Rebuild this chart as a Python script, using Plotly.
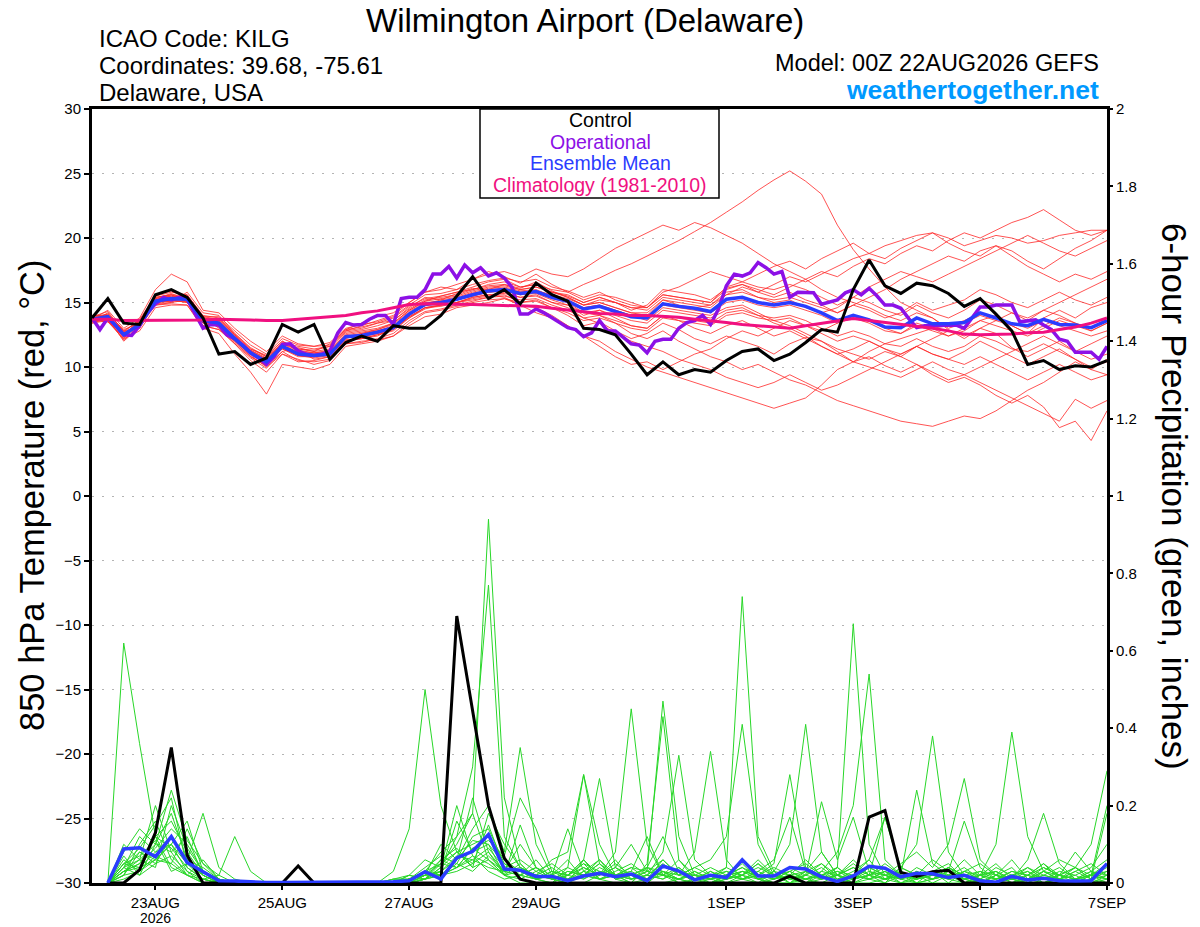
import plotly.graph_objects as go
import pandas as pd

# --- time axes (GEFS 6-hourly, operational 3-hourly) ---
start = pd.Timestamp("2026-08-22 00:00")
hours_6h = list(range(0, 385, 6))
hours_3h = list(range(0, 385, 3))
hours_precip = list(range(6, 385, 6))

tick_days = [1, 3, 5, 7, 10, 12, 14, 16]
tick_labels = ["23AUG", "25AUG", "27AUG", "29AUG", "1SEP", "3SEP", "5SEP", "7SEP"]
year_label = "2026"

# --- 850 hPa temperature (C) ---
control_temp = [
    13.8, 15.3, 13.4, 13.3, 15.6, 16.0, 15.4, 13.8, 11.0, 11.2, 10.2, 10.7, 13.3,
    12.7, 13.3, 10.6, 11.9, 12.4, 12.0, 13.2, 13.0, 13.0, 14.0, 15.5, 17.0, 15.3,
    16.0, 14.9, 16.5, 15.6, 15.1, 13.0, 12.9, 12.5, 11.0, 9.4, 10.4, 9.4, 9.8,
    9.6, 10.5, 11.2, 11.4, 10.5, 11.0, 11.9, 12.9, 12.7, 16.0, 18.3, 16.3, 15.7,
    16.5, 16.3, 15.7, 14.7, 15.3, 14.1, 12.8, 10.2, 10.5, 9.8, 10.1, 10.0, 10.5,
]

mean_temp = [
    13.7, 13.9, 12.5, 13.3, 15.1, 15.3, 15.25, 13.6, 13.4, 12.2, 11.1, 10.4, 11.6,
    11.0, 10.9, 11.0, 12.35, 12.45, 12.7, 13.05, 14.1, 14.85, 15.0, 15.25, 15.6, 15.9,
    16.0, 15.7, 15.85, 15.4, 15.1, 14.5, 14.7, 14.3, 13.9, 13.8, 14.9, 14.7, 14.55,
    14.3, 15.25, 15.4, 15.0, 14.8, 15.0, 14.7, 14.2, 13.6, 14.0, 13.65, 13.1, 13.05,
    13.8, 13.35, 13.35, 13.45, 14.2, 13.8, 13.35, 13.2, 13.7, 13.3, 13.25, 13.05, 13.6,
]

clim_temp = [
    13.7, 13.7, 13.6, 13.6, 13.6, 13.6, 13.6, 13.65, 13.7, 13.7, 13.65, 13.6, 13.6,
    13.7, 13.8, 13.9, 14.0, 14.2, 14.35, 14.6, 14.85, 14.9, 14.9, 14.9, 14.85, 14.8,
    14.75, 14.7, 14.7, 14.55, 14.4, 14.3, 14.15, 14.1, 14.0, 14.0, 13.95, 13.85, 13.7,
    13.6, 13.45, 13.3, 13.2, 13.1, 13.0, 13.2, 13.4, 13.6, 13.75, 13.6, 13.45, 13.35,
    13.2, 13.0, 12.8, 12.55, 12.5, 12.5, 12.55, 12.65, 12.7, 12.9, 13.1, 13.4, 13.8,
]

oper_temp = [
    13.8, 12.9, 13.8, 13.2, 12.5, 12.45, 13.2, 14.2, 14.9, 15.4, 15.2, 15.4, 15.25, 14.1, 13.0, 13.3,
    13.25, 12.5, 12.2, 11.7, 11.1, 10.7, 10.2, 10.85, 11.75, 11.8, 11.25, 11.0, 10.9, 11.0, 11.25, 12.65,
    13.45, 13.25, 13.3, 13.7, 14.0, 14.0, 13.3, 15.3, 15.4, 15.4, 16.0, 17.2, 17.2, 17.8, 16.9, 17.9,
    17.3, 17.7, 17.05, 17.3, 16.9, 16.15, 14.1, 14.1, 14.5, 14.2, 13.8, 13.45, 13.05, 12.9, 12.35, 12.65,
    13.6, 12.8, 12.8, 12.3, 11.8, 11.7, 11.1, 12.0, 12.15, 12.15, 13.0, 13.45, 13.6, 14.0, 13.3, 14.5,
    16.3, 17.2, 17.05, 17.3, 18.1, 17.7, 17.2, 17.4, 15.4, 15.8, 15.8, 15.75, 14.86, 15.0, 15.2, 15.75,
    16.0, 15.6, 16.1, 15.5, 14.8, 14.8, 14.55, 13.75, 13.05, 13.2, 13.2, 13.2, 13.2, 13.25, 13.0, 13.8,
    14.65, 14.65, 14.8, 14.8, 14.8, 13.5, 13.6, 13.65, 13.25, 12.9, 12.15, 12.0, 11.15, 11.15, 11.15, 10.6,
    11.6,
]

member_temps = [
    [13.5, 14.2, 12.8, 13.0, 15.4, 15.6, 15.0, 13.2, 12.9, 12.0, 10.8, 10.1, 11.2,
     11.5, 11.2, 11.8, 12.9, 13.4, 13.9, 14.2, 15.0, 15.8, 16.2, 16.0, 16.8, 17.4,
     17.0, 16.5, 17.2, 16.4, 15.8, 16.4, 16.9, 17.5, 18.0, 18.6, 19.2, 19.8, 20.5,
     21.2, 22.0, 22.8, 23.7, 24.5, 25.2, 24.4, 23.4, 21.0, 19.1, 17.6, 16.2, 15.0,
     14.4, 13.8, 12.9, 12.2, 13.0, 12.6, 11.5, 10.8, 11.4, 12.0, 11.2, 10.6, 11.0],
    [13.9, 13.6, 12.2, 13.6, 15.0, 15.1, 15.6, 14.0, 13.8, 12.6, 11.4, 10.9, 12.0,
     11.3, 10.6, 10.8, 12.0, 12.2, 12.4, 13.0, 13.8, 14.5, 14.8, 15.0, 15.3, 15.5,
     15.6, 15.0, 15.2, 14.6, 14.0, 13.2, 13.5, 12.8, 12.2, 12.6, 13.4, 12.9, 12.2,
     11.8, 12.4, 12.0, 11.6, 11.0, 11.8, 12.3, 12.0, 11.2, 10.4, 10.8, 10.1, 9.6,
     10.2, 9.4, 8.8, 9.2, 8.6, 7.8, 7.2, 7.8, 6.9, 5.3, 5.8, 4.3, 6.6],
    [13.4, 13.8, 12.0, 13.1, 15.6, 15.9, 15.4, 13.9, 13.0, 11.8, 10.5, 9.6, 11.0,
     10.6, 10.2, 10.5, 11.8, 12.0, 12.1, 12.4, 13.2, 13.9, 14.1, 14.6, 14.8, 15.0,
     15.3, 14.8, 14.2, 13.8, 13.2, 12.4, 12.0, 11.2, 10.6, 10.0, 9.6, 9.2, 8.8,
     8.4, 8.0, 7.6, 7.2, 6.8, 7.2, 7.6, 8.6, 9.8, 10.4, 11.2, 11.8, 12.2,
     12.6, 13.0, 12.4, 12.8, 13.6, 14.0, 13.2, 12.6, 13.8, 14.4, 13.8, 14.6, 15.0],
    [13.8, 13.5, 12.6, 13.5, 14.8, 15.0, 15.8, 14.2, 14.0, 12.6, 11.5, 10.8, 11.8,
     11.4, 11.3, 11.6, 12.8, 13.0, 13.4, 13.6, 14.6, 15.4, 15.2, 15.7, 16.1, 16.0,
     16.4, 16.1, 16.6, 15.9, 15.4, 14.8, 15.2, 15.0, 14.4, 14.8, 16.0, 15.8, 15.6,
     15.2, 16.1, 16.4, 16.0, 15.6, 16.2, 16.8, 17.4, 17.0, 17.8, 18.4, 18.0, 18.8,
     19.4, 19.0, 19.8, 20.4, 20.0, 20.6, 21.2, 21.6, 22.2, 21.4, 20.6, 20.2, 20.6],
    [13.6, 14.0, 12.4, 13.2, 15.2, 15.5, 15.1, 13.5, 13.2, 12.0, 11.0, 10.2, 11.4,
     10.8, 10.8, 11.2, 12.4, 12.6, 12.8, 13.2, 14.2, 14.9, 15.2, 15.4, 15.8, 16.1,
     16.2, 15.9, 16.0, 15.5, 15.0, 14.2, 14.0, 13.4, 12.6, 12.2, 12.8, 12.0, 11.4,
     10.8, 10.4, 9.8, 10.2, 9.6, 9.0, 8.6, 8.0, 7.4, 7.0, 6.6, 6.2, 5.8,
     5.6, 5.4, 5.8, 6.2, 6.0, 6.6, 7.4, 8.2, 8.8, 9.6, 10.4, 9.8, 10.6],
    [13.7, 14.1, 12.9, 13.4, 15.0, 15.2, 15.0, 13.4, 13.6, 12.4, 11.2, 10.6, 11.8,
     11.1, 11.0, 11.1, 12.2, 12.6, 12.9, 13.4, 14.4, 15.1, 15.5, 15.8, 16.2, 16.6,
     16.8, 16.2, 16.4, 16.0, 15.8, 15.2, 15.6, 15.4, 15.0, 14.6, 15.8, 16.2, 16.8,
     17.4, 17.0, 16.6, 17.2, 17.8, 18.2, 17.6, 18.4, 19.0, 19.6, 18.8, 18.4, 19.2,
     19.8, 20.4, 19.6, 19.0, 18.6, 19.4, 19.0, 18.2, 17.6, 18.4, 19.2, 19.8, 20.6],
    [13.5, 13.7, 12.3, 13.4, 14.9, 15.0, 15.2, 13.7, 13.5, 12.3, 11.3, 10.6, 11.4,
     10.9, 10.8, 10.9, 12.1, 12.2, 12.5, 12.8, 13.8, 14.6, 14.7, 15.0, 15.2, 15.4,
     15.8, 15.4, 15.6, 15.0, 14.8, 14.0, 14.4, 13.8, 13.2, 13.0, 14.0, 13.6, 13.0,
     12.6, 13.2, 13.6, 13.0, 12.4, 12.8, 12.2, 11.6, 11.0, 11.4, 12.0, 11.4, 10.8,
     11.6, 11.0, 10.6, 11.2, 12.0, 11.4, 10.8, 10.2, 10.8, 11.4, 10.6, 9.8, 9.4],
    [14.0, 13.8, 12.6, 13.2, 15.3, 15.7, 15.2, 13.6, 13.1, 12.2, 11.0, 10.5, 11.9,
     11.6, 11.4, 11.6, 12.8, 13.2, 13.6, 14.0, 15.0, 15.8, 16.0, 16.4, 16.8, 17.2,
     17.4, 17.0, 17.6, 17.2, 17.0, 17.6, 18.4, 19.2, 19.8, 20.4, 21.0, 20.6, 21.2,
     20.8, 20.2, 19.6, 18.8, 18.0, 17.4, 16.8, 16.0, 15.4, 15.0, 14.6, 14.0, 13.6,
     14.2, 13.8, 13.0, 13.4, 14.0, 13.6, 13.2, 12.6, 13.2, 13.8, 13.4, 13.0, 13.6],
    [13.6, 14.0, 12.7, 13.0, 15.0, 15.4, 15.4, 13.8, 13.3, 12.1, 10.9, 10.0, 11.0,
     10.4, 10.5, 10.8, 12.0, 12.3, 12.6, 12.9, 13.9, 14.6, 14.8, 15.0, 15.4, 15.6,
     15.4, 14.8, 14.6, 14.0, 13.2, 12.4, 11.6, 10.8, 10.2, 10.4, 9.8, 10.4, 11.0,
     11.4, 12.2, 12.8, 12.4, 13.0, 13.6, 13.2, 12.8, 13.4, 14.0, 13.6, 13.0, 12.6,
     13.2, 12.8, 12.4, 13.0, 13.6, 13.2, 12.8, 12.4, 13.0, 13.6, 13.2, 12.8, 13.4],
    [13.8, 13.9, 12.5, 13.5, 15.2, 15.3, 15.5, 13.9, 13.7, 12.5, 11.2, 10.5, 11.6,
     11.2, 11.1, 11.3, 12.5, 12.7, 12.9, 13.3, 14.3, 15.0, 15.1, 15.3, 15.7, 15.9,
     16.1, 15.8, 15.9, 15.6, 15.3, 14.8, 15.0, 14.6, 14.2, 14.2, 15.2, 14.8, 14.6,
     14.8, 15.6, 16.2, 15.8, 16.4, 17.0, 16.6, 17.2, 17.8, 18.4, 18.8, 19.4, 19.8,
     20.2, 20.4, 20.0, 19.4, 19.8, 20.2, 20.0, 19.6, 19.8, 20.2, 20.4, 20.6, 20.6],
    [13.6, 13.7, 12.4, 13.3, 15.1, 15.2, 15.0, 13.4, 13.3, 12.2, 11.1, 10.4, 11.7,
     11.0, 10.9, 11.0, 12.3, 12.4, 12.7, 13.1, 14.0, 14.8, 15.0, 15.2, 15.5, 15.8,
     15.9, 15.6, 15.8, 15.3, 15.0, 14.6, 14.8, 14.4, 14.0, 13.6, 14.6, 14.4, 14.2,
     14.0, 14.6, 14.8, 14.2, 13.6, 13.2, 12.6, 12.0, 11.4, 11.0, 10.6, 11.2, 10.8,
     10.2, 9.6, 9.0, 9.4, 8.8, 8.2, 7.6, 7.0, 6.4, 5.8, 7.5, 6.8, 7.4],
    [13.9, 14.3, 12.7, 13.7, 15.5, 15.8, 15.6, 13.9, 13.9, 12.8, 11.7, 11.0, 12.2,
     11.7, 11.6, 11.9, 13.0, 13.3, 13.5, 13.9, 14.8, 15.6, 15.7, 16.0, 16.4, 16.7,
     16.9, 16.6, 16.8, 16.2, 15.9, 15.4, 15.8, 15.2, 14.8, 14.6, 15.6, 15.4, 15.2,
     15.0, 16.0, 16.4, 15.8, 15.4, 15.8, 15.2, 14.8, 14.2, 14.8, 14.4, 13.8, 14.2,
     15.0, 14.4, 14.8, 15.2, 16.0, 15.6, 15.0, 14.6, 15.2, 15.8, 15.2, 14.8, 15.4],
    [13.4, 13.6, 12.1, 13.1, 14.8, 14.9, 14.8, 13.2, 12.9, 11.8, 10.7, 9.9, 11.2,
     10.5, 10.4, 10.6, 11.8, 11.9, 12.2, 12.6, 13.6, 14.3, 14.5, 14.8, 15.1, 15.4,
     15.5, 15.2, 15.3, 14.8, 14.4, 13.8, 14.0, 13.6, 13.2, 13.0, 14.0, 13.8, 13.6,
     13.4, 14.2, 14.4, 14.0, 13.8, 14.0, 13.6, 13.0, 12.4, 12.8, 12.4, 11.8, 11.6,
     12.2, 11.6, 11.2, 11.6, 12.4, 12.0, 11.4, 11.2, 11.8, 11.2, 10.6, 10.0, 10.4],
    [14.0, 14.0, 12.6, 13.4, 15.3, 15.5, 15.4, 13.8, 13.6, 12.4, 11.3, 10.7, 11.8,
     11.3, 11.1, 11.2, 12.6, 12.8, 13.0, 13.4, 14.4, 15.1, 15.3, 15.5, 15.9, 16.2,
     16.3, 16.0, 16.2, 15.8, 15.4, 14.8, 15.0, 14.6, 14.2, 14.0, 15.2, 15.0, 14.8,
     14.6, 15.6, 15.8, 15.4, 15.2, 15.4, 15.0, 14.6, 14.2, 14.8, 15.4, 16.0, 16.8,
     17.4, 18.0, 18.6, 18.2, 19.0, 19.4, 18.6, 17.8, 17.2, 16.6, 17.2, 16.8, 17.4],
    [13.5, 13.8, 12.3, 13.1, 15.0, 15.1, 15.1, 13.5, 13.2, 11.9, 10.8, 10.1, 11.5,
     10.9, 10.7, 10.9, 12.1, 12.2, 12.5, 12.9, 13.9, 14.6, 14.8, 15.0, 15.4, 15.6,
     15.7, 15.4, 15.5, 15.0, 14.6, 13.8, 13.4, 12.6, 12.0, 11.6, 11.2, 10.6, 10.2,
     9.8, 9.2, 8.8, 8.4, 8.8, 9.4, 8.8, 8.2, 8.6, 9.2, 9.8, 10.4, 11.0,
     11.6, 12.2, 12.8, 12.4, 13.0, 13.6, 14.2, 13.8, 14.4, 15.0, 15.6, 16.2, 16.8],
    [13.8, 13.8, 12.5, 13.6, 15.2, 15.6, 15.2, 13.7, 13.5, 12.3, 11.2, 10.3, 11.6,
     11.0, 11.0, 11.1, 12.4, 12.5, 12.8, 13.1, 14.2, 14.9, 15.1, 15.3, 15.7, 16.0,
     16.1, 15.8, 15.9, 15.4, 15.2, 14.6, 14.8, 14.4, 14.0, 13.8, 14.8, 14.6, 14.4,
     14.2, 15.0, 15.2, 14.8, 14.6, 14.8, 14.4, 14.0, 13.4, 13.8, 13.4, 12.8, 12.6,
     13.4, 13.0, 13.2, 13.6, 14.2, 13.8, 13.4, 13.0, 13.6, 13.2, 12.8, 12.4, 12.8],
    [13.7, 14.4, 13.0, 13.8, 16.0, 17.2, 16.6, 14.4, 14.2, 13.0, 12.0, 11.2, 12.4,
     11.8, 11.6, 11.7, 12.9, 13.1, 13.4, 13.8, 14.7, 15.3, 15.5, 15.8, 16.0, 16.4,
     16.6, 16.2, 16.4, 15.8, 15.6, 15.0, 15.4, 15.0, 14.6, 14.4, 15.4, 15.2, 15.0,
     14.8, 15.8, 16.0, 15.4, 15.0, 15.2, 14.6, 14.2, 14.6, 15.4, 16.2, 16.8, 17.4,
     17.0, 16.6, 17.2, 17.8, 18.4, 19.0, 19.6, 20.2, 19.6, 19.0, 18.6, 19.2, 19.8],
    [13.6, 13.5, 12.2, 12.8, 14.6, 14.8, 14.8, 13.0, 12.6, 11.0, 9.6, 7.9, 10.2,
     10.0, 9.8, 10.2, 11.6, 11.8, 12.0, 12.4, 13.4, 14.2, 14.4, 14.7, 15.0, 15.2,
     15.3, 15.0, 15.1, 14.6, 14.2, 13.6, 13.8, 13.4, 13.0, 12.8, 13.8, 13.6, 13.4,
     13.2, 14.0, 14.2, 13.8, 13.6, 13.8, 13.2, 12.6, 12.0, 12.4, 12.0, 11.4, 11.0,
     11.6, 11.0, 10.6, 10.2, 10.8, 10.2, 9.6, 9.0, 9.6, 10.2, 9.6, 9.0, 9.4],
    [13.9, 14.1, 12.8, 13.6, 15.4, 15.6, 15.5, 13.8, 13.7, 12.5, 11.4, 10.8, 12.0,
     11.4, 11.2, 11.4, 12.7, 12.9, 13.2, 13.6, 14.5, 15.2, 15.4, 15.6, 16.0, 16.3,
     16.4, 16.0, 16.2, 15.8, 15.5, 15.0, 15.4, 15.0, 14.6, 14.6, 15.6, 15.4, 15.2,
     15.0, 16.2, 16.6, 16.2, 16.0, 16.4, 16.0, 15.4, 14.8, 15.4, 15.0, 14.4, 14.0,
     14.8, 14.2, 13.8, 14.4, 15.2, 14.8, 14.2, 13.6, 14.4, 14.0, 13.4, 12.8, 13.4],
    [13.6, 13.9, 12.5, 13.2, 15.0, 15.2, 15.2, 13.6, 13.4, 12.2, 11.0, 10.3, 11.5,
     10.9, 10.8, 11.0, 12.3, 12.4, 12.6, 13.0, 14.0, 14.8, 15.0, 15.2, 15.5, 15.8,
     15.9, 15.6, 15.7, 15.2, 14.8, 14.2, 14.4, 14.0, 13.6, 13.4, 14.4, 14.2, 14.0,
     13.8, 14.4, 14.6, 14.0, 13.4, 13.0, 12.4, 11.6, 11.0, 10.4, 10.0, 9.6, 9.2,
     9.8, 10.4, 9.8, 9.4, 10.0, 10.6, 11.2, 11.8, 12.4, 11.8, 11.2, 11.8, 12.4],
]

# --- 6-hour precipitation (inches), valid 06Z 22AUG onward ---
control_precip = [
    0, 0, 0.034, 0.13, 0.35, 0.072, 0, 0, 0, 0, 0, 0,
    0.044, 0, 0, 0, 0, 0, 0, 0, 0, 0, 0.69, 0.44, 0.2,
    0.064, 0.01, 0, 0, 0, 0, 0, 0, 0, 0, 0, 0, 0,
    0, 0, 0, 0, 0, 0.018, 0, 0, 0, 0, 0.17, 0.187, 0.027,
    0.017, 0.029, 0.033, 0, 0, 0, 0, 0, 0, 0, 0, 0, 0,
]

mean_precip = [
    0, 0.088, 0.091, 0.068, 0.12, 0.053, 0.029, 0.006, 0.005, 0.002, 0.001, 0.001,
    0.001, 0.001, 0.001, 0.001, 0.001, 0.002, 0.003, 0.006, 0.029, 0.01, 0.065, 0.082, 0.125,
    0.036, 0.033, 0.017, 0.017, 0.006, 0.018, 0.025, 0.016, 0.023, 0.006, 0.044, 0.031, 0.008,
    0.02, 0.014, 0.06, 0.018, 0.018, 0.04, 0.036, 0.016, 0.004, 0.018, 0.043, 0.038, 0.016,
    0.025, 0.024, 0.014, 0.02, 0.006, 0.002, 0.017, 0.008, 0.012, 0.006, 0.005, 0.006, 0.05,
]

member_precip = [
    [0, 0.62, 0.36, 0.12, 0.04, 0.02, 0, 0, 0, 0, 0, 0,
     0, 0, 0, 0, 0, 0, 0, 0.01, 0.03, 0.08, 0.12, 0.18, 0.06,
     0.02, 0, 0, 0, 0.02, 0.05, 0.01, 0, 0, 0.04, 0.12, 0.03, 0,
     0, 0.02, 0.06, 0.01, 0, 0, 0.03, 0.08, 0.02, 0, 0, 0.01, 0.04,
     0.02, 0, 0, 0.03, 0.01, 0, 0, 0.02, 0.05, 0.01, 0, 0, 0.02],
    [0, 0.08, 0.14, 0.1, 0.18, 0.06, 0.02, 0, 0, 0, 0, 0,
     0, 0, 0, 0, 0, 0, 0, 0, 0.02, 0.05, 0.1, 0.18, 0.94,
     0.22, 0.05, 0.01, 0, 0, 0.02, 0.06, 0.01, 0, 0, 0.03, 0.01, 0,
     0.01, 0.04, 0.74, 0.12, 0.03, 0, 0.01, 0.02, 0, 0.02, 0.06, 0.01, 0,
     0, 0.03, 0.05, 0.01, 0, 0.02, 0.04, 0, 0, 0.01, 0.02, 0, 0],
    [0, 0.1, 0.06, 0.2, 0.08, 0.02, 0, 0, 0, 0, 0, 0,
     0, 0, 0, 0, 0, 0, 0.01, 0.02, 0.06, 0.04, 0.12, 0.3, 0.77,
     0.12, 0.04, 0.02, 0.01, 0, 0, 0.02, 0.05, 0.02, 0, 0, 0.01, 0.03,
     0.01, 0, 0.02, 0.05, 0.02, 0, 0, 0.01, 0.04, 0.67, 0.1, 0.02, 0,
     0.01, 0.03, 0, 0, 0.02, 0.05, 0.01, 0, 0, 0.02, 0.04, 0.01, 0],
    [0, 0.05, 0.09, 0.15, 0.22, 0.04, 0.01, 0, 0, 0, 0, 0,
     0, 0, 0, 0, 0, 0, 0.03, 0.14, 0.5, 0.2, 0.08, 0.1, 0.12,
     0.06, 0.03, 0.01, 0, 0.04, 0.28, 0.1, 0.02, 0, 0.01, 0.03, 0, 0,
     0, 0.02, 0.01, 0, 0.03, 0.1, 0.41, 0.08, 0.02, 0, 0.01, 0.03, 0.01,
     0, 0, 0.02, 0.06, 0.02, 0, 0.01, 0.03, 0, 0, 0.01, 0.02, 0.04],
    [0, 0.04, 0.12, 0.08, 0.1, 0.03, 0, 0, 0, 0, 0, 0,
     0, 0, 0, 0, 0, 0, 0, 0.01, 0.02, 0.1, 0.06, 0.14, 0.2,
     0.08, 0.35, 0.1, 0.02, 0.01, 0.04, 0.02, 0.08, 0.45, 0.1, 0.02, 0.01, 0,
     0, 0.01, 0.03, 0.02, 0, 0, 0.02, 0.05, 0.01, 0, 0.02, 0.17, 0.03,
     0, 0.01, 0.03, 0.01, 0, 0.02, 0.01, 0, 0.03, 0.01, 0, 0.02, 0.01],
    [0, 0.06, 0.03, 0.12, 0.16, 0.08, 0.02, 0, 0, 0, 0, 0,
     0, 0, 0, 0, 0, 0, 0, 0, 0.01, 0.04, 0.08, 0.05, 0.15,
     0.04, 0.02, 0.06, 0.01, 0, 0.06, 0.02, 0.04, 0.1, 0.03, 0.47, 0.12, 0.02,
     0, 0.01, 0.02, 0, 0.01, 0.03, 0.01, 0, 0.02, 0.06, 0.02, 0, 0.04,
     0.1, 0.38, 0.08, 0.02, 0, 0.01, 0.03, 0.02, 0, 0.01, 0.04, 0.02, 0],
    [0, 0.03, 0.05, 0.09, 0.14, 0.1, 0.03, 0.01, 0, 0, 0, 0,
     0, 0, 0, 0, 0, 0, 0, 0.01, 0.03, 0.02, 0.06, 0.22, 0.08,
     0.03, 0.1, 0.04, 0.02, 0.06, 0.01, 0.03, 0.02, 0, 0.05, 0.43, 0.06, 0.01,
     0, 0.02, 0.04, 0.01, 0.03, 0.02, 0, 0.03, 0.08, 0.2, 0.54, 0.06, 0.02,
     0, 0.01, 0.02, 0, 0.01, 0.03, 0, 0.02, 0.05, 0.02, 0, 0.01, 0.03],
    [0, 0.04, 0.08, 0.05, 0.12, 0.06, 0.04, 0.01, 0, 0, 0, 0,
     0, 0, 0, 0, 0, 0, 0, 0, 0.02, 0.03, 0.16, 0.08, 0.1,
     0.02, 0.05, 0.01, 0.03, 0.02, 0.06, 0.01, 0.02, 0.04, 0.01, 0.06, 0.02, 0.08,
     0.34, 0.06, 0.01, 0.02, 0.05, 0.28, 0.04, 0.01, 0.02, 0.04, 0.01, 0.03, 0,
     0.02, 0.01, 0.04, 0.02, 0, 0.02, 0.06, 0.01, 0, 0.02, 0.01, 0.03, 0.02],
    [0, 0.02, 0.1, 0.16, 0.06, 0.02, 0.01, 0, 0, 0, 0, 0,
     0, 0, 0, 0, 0, 0, 0.01, 0.01, 0.04, 0.07, 0.05, 0.12, 0.14,
     0.05, 0.02, 0.04, 0.01, 0, 0.03, 0.06, 0.02, 0.01, 0.02, 0.08, 0.33, 0.06,
     0.02, 0, 0.01, 0.03, 0.01, 0.02, 0.06, 0.02, 0, 0.01, 0.03, 0.02, 0.05,
     0.08, 0.04, 0.1, 0.27, 0.06, 0.02, 0.01, 0, 0.02, 0.04, 0.01, 0, 0.01],
    [0, 0.07, 0.02, 0.1, 0.08, 0.12, 0.02, 0, 0, 0, 0, 0,
     0, 0, 0, 0, 0, 0, 0, 0.02, 0.01, 0.06, 0.09, 0.04, 0.18,
     0.1, 0.04, 0.02, 0.06, 0.08, 0.28, 0.05, 0.01, 0.02, 0.04, 0.02, 0, 0.01,
     0.03, 0.01, 0.02, 0.06, 0.02, 0.01, 0, 0.02, 0.04, 0.01, 0.02, 0.05, 0.02,
     0.01, 0.03, 0.01, 0, 0.02, 0.1, 0.39, 0.12, 0.03, 0.01, 0, 0.02, 0.05],
    [0, 0.03, 0.06, 0.04, 0.2, 0.09, 0.03, 0, 0, 0, 0, 0,
     0, 0, 0, 0, 0, 0, 0, 0, 0.02, 0.02, 0.04, 0.09, 0.06,
     0.03, 0.02, 0.01, 0.03, 0.02, 0.06, 0.27, 0.04, 0.01, 0.02, 0.01, 0.03, 0.02,
     0.01, 0.02, 0.05, 0.01, 0, 0.02, 0.03, 0.01, 0.02, 0.01, 0.04, 0.02, 0.01,
     0.03, 0.01, 0.02, 0.04, 0.01, 0, 0.02, 0.01, 0.03, 0.06, 0.04, 0.1, 0.29],
    [0, 0.05, 0.04, 0.06, 0.1, 0.05, 0.01, 0, 0, 0, 0, 0,
     0, 0, 0, 0, 0, 0, 0, 0.01, 0.01, 0.03, 0.07, 0.06, 0.09,
     0.04, 0.06, 0.03, 0.01, 0.02, 0.04, 0.02, 0.06, 0.01, 0.02, 0.05, 0.02, 0.04,
     0.06, 0.12, 0.41, 0.1, 0.02, 0.01, 0.02, 0.04, 0.01, 0.02, 0.01, 0, 0.02,
     0.01, 0.02, 0.04, 0.01, 0.02, 0.03, 0.01, 0.06, 0.18, 0.05, 0.01, 0.02, 0.2],
    [0, 0.02, 0.08, 0.06, 0.05, 0.14, 0.05, 0.01, 0, 0, 0, 0,
     0, 0, 0, 0, 0, 0, 0, 0, 0.01, 0.02, 0.03, 0.05, 0.08,
     0.02, 0.01, 0.03, 0.05, 0.02, 0.01, 0.04, 0.02, 0.03, 0.12, 0.02, 0.01, 0.03,
     0.01, 0.03, 0.02, 0.05, 0.01, 0.04, 0.02, 0.21, 0.06, 0.17, 0.03, 0.01, 0.02,
     0.24, 0.05, 0.02, 0.01, 0.03, 0.02, 0, 0.01, 0.04, 0.02, 0.08, 0.03, 0.01],
    [0, 0.04, 0.02, 0.05, 0.07, 0.03, 0.01, 0.02, 0, 0, 0, 0,
     0, 0, 0, 0, 0, 0, 0.01, 0.01, 0.03, 0.05, 0.04, 0.07, 0.05,
     0.02, 0.03, 0.01, 0.02, 0.04, 0.02, 0.05, 0.01, 0.02, 0.04, 0.03, 0.01, 0.02,
     0.04, 0.02, 0.01, 0.03, 0.06, 0.17, 0.03, 0.01, 0.02, 0.05, 0.02, 0.04, 0.01,
     0.02, 0.06, 0.03, 0.16, 0.04, 0.01, 0.02, 0.03, 0.01, 0.02, 0.04, 0.01, 0.18],
    [0, 0.01, 0.03, 0.07, 0.05, 0.02, 0.06, 0.01, 0, 0, 0, 0,
     0, 0, 0, 0, 0, 0, 0, 0, 0.01, 0.04, 0.2, 0.07, 0.03,
     0.01, 0.02, 0.04, 0.01, 0.03, 0.02, 0.01, 0.03, 0.05, 0.02, 0.01, 0.04, 0.01,
     0.02, 0.04, 0.02, 0.01, 0.02, 0.03, 0.05, 0.02, 0.01, 0.03, 0.06, 0.17, 0.04,
     0.02, 0.01, 0.03, 0.02, 0.01, 0.04, 0.02, 0.01, 0.03, 0.02, 0.01, 0.03, 0.06],
    [0, 0.05, 0.07, 0.11, 0.03, 0.05, 0.02, 0, 0, 0, 0, 0,
     0, 0, 0, 0, 0, 0, 0, 0.01, 0.02, 0.06, 0.04, 0.09, 0.11,
     0.07, 0.22, 0.14, 0.03, 0.01, 0.02, 0.05, 0.02, 0.01, 0.03, 0.02, 0.06, 0.02,
     0.01, 0.02, 0.04, 0.02, 0.01, 0.03, 0.01, 0.02, 0.04, 0.01, 0.02, 0.03, 0.01,
     0.04, 0.02, 0.01, 0.03, 0.05, 0.02, 0.01, 0.04, 0.02, 0.01, 0.03, 0.05, 0.02],
    [0, 0.03, 0.05, 0.12, 0.09, 0.04, 0.01, 0, 0, 0, 0, 0,
     0, 0, 0, 0, 0, 0, 0, 0, 0.01, 0.02, 0.05, 0.03, 0.07,
     0.03, 0.04, 0.02, 0.01, 0.02, 0.05, 0.03, 0.02, 0.04, 0.03, 0.06, 0.02, 0.01,
     0.03, 0.01, 0.02, 0.04, 0.02, 0.01, 0.03, 0.05, 0.02, 0.04, 0.02, 0.01, 0.03,
     0.01, 0.02, 0.04, 0.02, 0.03, 0.01, 0.02, 0.04, 0.01, 0.03, 0.02, 0.04, 0.1],
    [0, 0.04, 0.06, 0.1, 0.24, 0.11, 0.05, 0.02, 0.12, 0.03, 0, 0,
     0, 0, 0, 0, 0, 0, 0, 0.01, 0.02, 0.03, 0.06, 0.11, 0.1,
     0.05, 0.03, 0.02, 0.04, 0.01, 0.03, 0.02, 0.04, 0.02, 0.01, 0.03, 0.02, 0.04,
     0.02, 0.03, 0.01, 0.02, 0.04, 0.02, 0.01, 0.03, 0.02, 0.01, 0.04, 0.02, 0.03,
     0.01, 0.03, 0.02, 0.01, 0.02, 0.03, 0.01, 0.02, 0.04, 0.02, 0.01, 0.02, 0.03],
    [0, 0.03, 0.04, 0.08, 0.12, 0.06, 0.18, 0.04, 0.01, 0, 0, 0,
     0, 0, 0, 0, 0, 0, 0, 0.02, 0.01, 0.05, 0.08, 0.04, 0.06,
     0.02, 0.15, 0.04, 0.01, 0.03, 0.02, 0.01, 0.02, 0.03, 0.01, 0.02, 0.04, 0.01,
     0.01, 0.02, 0.03, 0.01, 0.02, 0.01, 0.02, 0.01, 0.03, 0.02, 0.01, 0.02, 0.01,
     0.03, 0.01, 0.02, 0.01, 0.02, 0.01, 0.03, 0.02, 0.01, 0.02, 0.01, 0.02, 0.01],
    [0, 0.02, 0.03, 0.06, 0.1, 0.16, 0.03, 0.01, 0, 0, 0, 0,
     0, 0, 0, 0, 0, 0, 0, 0.01, 0.03, 0.02, 0.04, 0.06, 0.04,
     0.03, 0.02, 0.01, 0.02, 0.14, 0.03, 0.01, 0.02, 0.01, 0.03, 0.02, 0.01, 0.02,
     0.02, 0.01, 0.03, 0.02, 0.01, 0.02, 0.01, 0.02, 0.03, 0.01, 0.02, 0.01, 0.02,
     0.01, 0.02, 0.01, 0.03, 0.02, 0.01, 0.02, 0.01, 0.02, 0.01, 0.03, 0.01, 0.02],
]

# colours
RED = 'rgba(255,40,40,0.8)'
GREEN = 'rgb(40,215,40)'
PURPLE = '#8c10e6'
BLUE = '#2a3cff'
PINK = '#f01080'
FONT = 'Liberation Sans, Arial, Helvetica, sans-serif'

# plot area in page pixels (the page margin is removed below so the figure sits at 0,0)
PLOT_L, PLOT_R, PLOT_T, PLOT_B = 92, 1107, 109, 883
FIG_W, FIG_H = 1200, 927


def px_x(px):
    return (px - PLOT_L) / (PLOT_R - PLOT_L)


def px_y(py):
    return (PLOT_B - py) / (PLOT_B - PLOT_T)


t6 = [start + pd.Timedelta(hours=h) for h in hours_6h]
t3 = [start + pd.Timedelta(hours=h) for h in hours_3h]
tp = [start + pd.Timedelta(hours=h) for h in hours_precip]
tick_times = [start + pd.Timedelta(days=d) for d in tick_days]

fig = go.Figure()

# temperature ensemble members
for m in member_temps:
    fig.add_trace(go.Scatter(x=t6, y=m, mode='lines', line=dict(color=RED, width=1),
                             hoverinfo='skip'))

fig.add_trace(go.Scatter(x=t3, y=oper_temp, mode='lines', name='Operational',
                         line=dict(color=PURPLE, width=3.5)))
fig.add_trace(go.Scatter(x=t6, y=mean_temp, mode='lines', name='Ensemble Mean',
                         line=dict(color=BLUE, width=3.5)))
fig.add_trace(go.Scatter(x=t6, y=clim_temp, mode='lines', name='Climatology',
                         line=dict(color=PINK, width=3)))
fig.add_trace(go.Scatter(x=t6, y=control_temp, mode='lines', name='Control',
                         line=dict(color='black', width=3)))

# precipitation on the right axis
for m in member_precip:
    fig.add_trace(go.Scatter(x=tp, y=m, mode='lines', yaxis='y2',
                             line=dict(color=GREEN, width=1), hoverinfo='skip'))

fig.add_trace(go.Scatter(x=tp, y=control_precip, mode='lines', yaxis='y2',
                         line=dict(color='black', width=3)))
fig.add_trace(go.Scatter(x=tp, y=mean_precip, mode='lines', yaxis='y2',
                         line=dict(color=BLUE, width=3.5)))

annotations = [
    dict(text='Wilmington Airport (Delaware)', x=px_x(585), y=px_y(0.5), yanchor='top', font=dict(size=33)),
    dict(text='ICAO Code: KILG', x=px_x(97), y=px_y(39), xanchor='left', font=dict(size=24)),
    dict(text='Coordinates: 39.68, -75.61', x=px_x(97), y=px_y(66), xanchor='left', font=dict(size=24)),
    dict(text='Delaware, USA', x=px_x(97), y=px_y(92), xanchor='left', font=dict(size=24)),
    dict(text='Model: 00Z 22AUG2026 GEFS', x=px_x(1101), y=px_y(63), xanchor='right', font=dict(size=23.5)),
    dict(text='<b>weathertogether.net</b>', x=px_x(1101), y=px_y(90), xanchor='right',
         font=dict(size=26.5, color='#0099ff')),
    dict(text='Control', x=px_x(600), y=px_y(120), font=dict(size=19.5, color='black')),
    dict(text='Operational', x=px_x(600), y=px_y(142), font=dict(size=19.5, color=PURPLE)),
    dict(text='Ensemble Mean', x=px_x(600), y=px_y(163), font=dict(size=19.5, color=BLUE)),
    dict(text='Climatology (1981-2010)', x=px_x(600), y=px_y(185), font=dict(size=19.5, color=PINK)),
    dict(text='850 hPa Temperature (red, °C)', x=px_x(32), y=0.5, textangle=-90, font=dict(size=34.5)),
    dict(text='6-hour Precipitation (green, inches)', x=px_x(1175), y=0.5, textangle=90, font=dict(size=35)),
    dict(text=year_label, x=tick_times[0], xref='x', y=px_y(918), font=dict(size=14)),
]
for a in annotations:
    a.setdefault('xanchor', 'center')
    a.setdefault('yanchor', 'middle')
    a.setdefault('xref', 'paper')
    a['yref'] = 'paper'
    a['showarrow'] = False
    a['font'].setdefault('color', 'black')
    a['font']['family'] = FONT

fig.update_layout(
    width=FIG_W,
    height=FIG_H,
    margin=dict(l=PLOT_L, r=FIG_W - PLOT_R, t=PLOT_T, b=FIG_H - PLOT_B),
    paper_bgcolor='white',
    plot_bgcolor='white',
    showlegend=False,
    font=dict(family=FONT, color='black', size=15),
    annotations=annotations,
    shapes=[dict(type='rect', xref='paper', yref='paper',
                 x0=px_x(480), x1=px_x(719), y0=px_y(198), y1=1,
                 line=dict(color='black', width=1.5), fillcolor='white', layer='above')],
    xaxis=dict(
        range=[start, start + pd.Timedelta(days=16)],
        tickvals=tick_times,
        ticktext=tick_labels,
        ticks='outside', ticklen=4, tickwidth=1.5, tickcolor='black',
        showline=True, linewidth=3, linecolor='black', mirror=True,
        showgrid=False, zeroline=False, automargin=False,
        tickfont=dict(size=15),
    ),
    yaxis=dict(
        range=[-30, 30], tick0=-30, dtick=5,
        ticks='outside', ticklen=5, tickwidth=1.5, tickcolor='black',
        showline=True, linewidth=3, linecolor='black', mirror=True,
        showgrid=True, gridcolor='#b4b4b4', gridwidth=1, griddash='2px,8px',
        zeroline=False, automargin=False,
        tickfont=dict(size=15),
    ),
    yaxis2=dict(
        overlaying='y', side='right',
        range=[0, 2], tick0=0, dtick=0.2,
        ticks='outside', ticklen=5, tickwidth=1.5, tickcolor='black',
        showline=False, showgrid=False, zeroline=False, automargin=False,
        tickfont=dict(size=15),
    ),
)

# drop the browser's default 8px body margin so the figure starts at the page corner
fig.write_html("out.html", config={'displayModeBar': False},
               post_script="document.body.style.margin='0';")
